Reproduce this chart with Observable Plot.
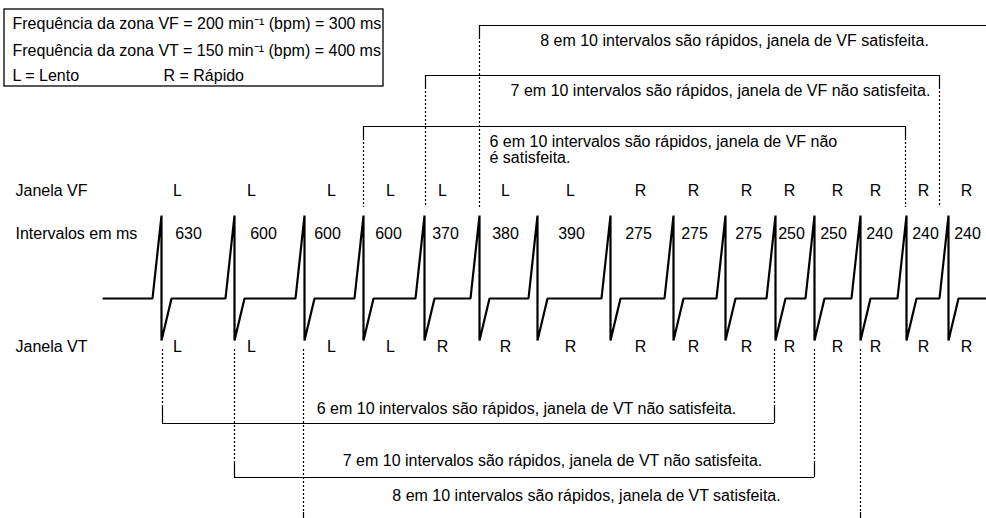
<!DOCTYPE html>
<html>
<head>
<meta charset="utf-8">
<script src="https://cdn.jsdelivr.net/npm/d3@7"></script>
<script src="https://cdn.jsdelivr.net/npm/@observablehq/plot@0.6"></script>
<style>
  html, body { margin: 0; padding: 0; background: #fff; }
  #chart svg { display: block; }
</style>
</head>
<body>
<div id="chart"></div>
<script>
// ---- Data (schematic positions) ----
const beatX = [161, 234, 304, 363, 424, 479, 537, 610, 673, 725, 775, 814, 860, 906, 948];
const intervalsMs = [630, 600, 600, 600, 370, 380, 390, 275, 275, 275, 250, 250, 240, 240, 240];
const intervalLabelX = [188, 263, 327, 388, 445, 505, 571, 638, 694, 748, 791, 833, 879, 925, 967];
const rateLabelX = [177, 251, 331, 390, 442, 505, 570, 640, 693, 746, 789, 837, 875, 923, 966];
const vfZoneMs = 300;
const vtZoneMs = 400;

const legendLines = [
  "Frequência da zona VF = 200 min⁻¹ (bpm) = 300 ms",
  "Frequência da zona VT = 150 min⁻¹ (bpm) = 400 ms"
];
const legendKey = ["L = Lento", "R = Rápido"];
const rowLabels = ["Janela VF", "Intervalos em ms", "Janela VT"];

const vfWindowTexts = [
  "6 em 10 intervalos são rápidos, janela de VF não\né satisfeita.",
  "7 em 10 intervalos são rápidos, janela de VF não satisfeita.",
  "8 em 10 intervalos são rápidos, janela de VF satisfeita."
];
const vfWindowStartX = [363, 425, 479];
const vfWindowEndX = [905, 939, null];

const vtWindowTexts = [
  "6 em 10 intervalos são rápidos, janela de VT não satisfeita.",
  "7 em 10 intervalos são rápidos, janela de VT não satisfeita.",
  "8 em 10 intervalos são rápidos, janela de VT satisfeita."
];
const vtWindowStartX = [162, 234, 303];
const vtWindowEndX = [774, 814, 860];

// ---- Layout constants ----
const W = 986, H = 518;
const BASE = 298, PEAK = 215, TROUGH = 340;
const vfTopY = [126, 75, 25];
const vfDotEnd = 207;
const vtBottomY = [423, 477, 528];
const vtDotStart = 349;
const FONT = "Liberation Sans, Arial, Helvetica, sans-serif";

// ECG waveform
const ecg = [{x: 103, y: BASE}];
beatX.forEach(b => {
  ecg.push({x: b - 9, y: BASE}, {x: b, y: PEAK}, {x: b, y: TROUGH}, {x: b + 10, y: BASE});
});
ecg.push({x: W, y: BASE});

// Row entries
const rows = intervalsMs.map((ms, i) => ({
  ms,
  numX: intervalLabelX[i],
  rateX: rateLabelX[i],
  vf: ms < vfZoneMs ? "R" : "L",
  vt: ms < vtZoneMs ? "R" : "L"
}));

// VF windows (brackets above)
const vfH = [], vfSolid = [], vfDotted = [];
vfWindowStartX.forEach((x1, i) => {
  const x2 = vfWindowEndX[i] ?? W + 5;
  const y = vfTopY[i];
  vfH.push({x1, x2, y});
  [x1, vfWindowEndX[i]].forEach(x => {
    if (x == null) return;
    vfSolid.push({x, y1: y, y2: y + 12});
    vfDotted.push({x, y1: y + 12, y2: vfDotEnd});
  });
});

// VT windows (brackets below)
const vtH = [], vtSolid = [], vtDotted = [];
vtWindowStartX.forEach((x1, i) => {
  const x2 = vtWindowEndX[i];
  const y = vtBottomY[i];
  if (y <= H) vtH.push({x1, x2, y});
  [x1, x2].forEach(x => {
    vtSolid.push({x, y1: Math.min(y, H), y2: y - 16});
    vtDotted.push({x, y1: vtDotStart, y2: y - 16});
  });
});

const txt = (data, opts) => Plot.text(data, {fontSize: 16, fill: "black", fontFamily: FONT, lineAnchor: "middle", ...opts});

const chart = Plot.plot({
  width: W,
  height: H,
  margin: 0,
  x: {domain: [0, W], range: [0, W], axis: null},
  y: {domain: [0, H], range: [0, H], axis: null},
  style: {fontFamily: FONT, fontSize: "16px", background: "white", overflow: "hidden"},
  marks: [
    // legend box
    Plot.rect([{x1: 4, x2: 383, y1: 9, y2: 86}], {x1: "x1", x2: "x2", y1: "y1", y2: "y2", fill: "none", stroke: "black", strokeWidth: 1.3}),
    txt(legendLines, {x: 12, y: (d, i) => 23 + i * 27, text: d => d, textAnchor: "start"}),
    txt(legendKey, {x: (d, i) => i === 0 ? 12 : 163, y: 75, text: d => d, textAnchor: "start"}),

    // row labels
    txt(rowLabels, {x: 15, y: (d, i) => [190, 233, 346][i], text: d => d, textAnchor: "start"}),

    // VF windows
    Plot.ruleY(vfH, {x1: "x1", x2: "x2", y: "y", stroke: "black", strokeWidth: 1.2}),
    Plot.ruleX(vfSolid, {x: "x", y1: "y1", y2: "y2", stroke: "black", strokeWidth: 1.2}),
    Plot.ruleX(vfDotted, {x: "x", y1: "y1", y2: "y2", stroke: "black", strokeWidth: 1.2, strokeDasharray: "2,2"}),
    txt([vfWindowTexts[2]], {x: 734, y: 40, text: d => d, textAnchor: "middle"}),
    txt([vfWindowTexts[1]], {x: 720, y: 90, text: d => d, textAnchor: "middle"}),
    txt([vfWindowTexts[0]], {x: 489, y: 136, text: d => d, textAnchor: "start", lineAnchor: "top", lineHeight: 0.96}),

    // VT windows
    Plot.ruleY(vtH, {x1: "x1", x2: "x2", y: "y", stroke: "black", strokeWidth: 1.2}),
    Plot.ruleX(vtSolid, {x: "x", y1: "y1", y2: "y2", stroke: "black", strokeWidth: 1.2}),
    Plot.ruleX(vtDotted, {x: "x", y1: "y1", y2: "y2", stroke: "black", strokeWidth: 1.2, strokeDasharray: "2,2"}),
    txt([vtWindowTexts[0]], {x: 526, y: 408, text: d => d, textAnchor: "middle"}),
    txt([vtWindowTexts[1]], {x: 552, y: 460, text: d => d, textAnchor: "middle"}),
    txt([vtWindowTexts[2]], {x: 586, y: 495, text: d => d, textAnchor: "middle"}),

    // interval labels and window classifications
    txt(rows, {x: "rateX", y: 190, text: "vf", textAnchor: "middle"}),
    txt(rows, {x: "numX", y: 233, text: d => String(d.ms), textAnchor: "middle"}),
    txt(rows, {x: "rateX", y: 346, text: "vt", textAnchor: "middle"}),

    // ECG
    Plot.line(ecg, {x: "x", y: "y", stroke: "black", strokeWidth: 2.2, strokeLinejoin: "miter", curve: "linear"})
  ]
});
document.getElementById("chart").appendChild(chart);
</script>
</body>
</html>
